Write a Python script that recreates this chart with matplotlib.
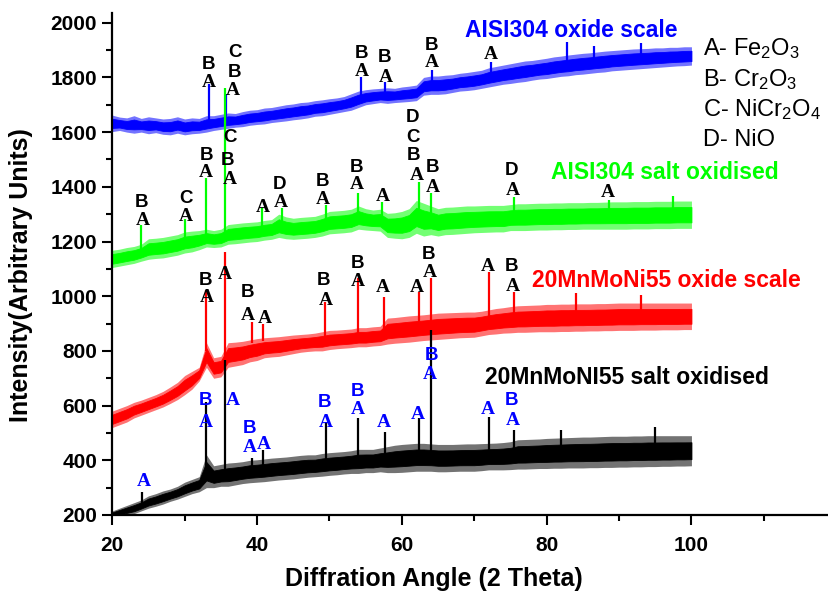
import matplotlib
matplotlib.use("Agg")
import matplotlib.pyplot as plt
from matplotlib.ticker import MultipleLocator

plt.rcParams['font.family'] = ['Liberation Sans', 'DejaVu Sans']
plt.rcParams['mathtext.fontset'] = 'custom'
plt.rcParams['mathtext.rm'] = 'Liberation Sans'
plt.rcParams['mathtext.default'] = 'regular'

# ---------------- data ----------------
two_theta = list(range(20, 101))

blue_lo = [1602,1606,1600,1596,1600,1594,1598,1592,1590,1596,
           1590,1594,1596,1600,1606,1610,1614,1618,1620,1625,
           1628,1630,1635,1638,1641,1645,1648,1652,1658,1660,
           1665,1670,1675,1680,1690,1700,1704,1708,1705,1708,
           1710,1712,1715,1735,1738,1738,1740,1745,1750,1752,
           1755,1760,1765,1770,1775,1778,1782,1785,1790,1794,
           1796,1800,1804,1806,1810,1812,1815,1818,1820,1824,
           1826,1828,1830,1832,1834,1836,1838,1840,1842,1843,1845]
blue_hi = [1662,1655,1652,1660,1650,1656,1652,1648,1650,1656,
           1648,1652,1650,1660,1660,1665,1670,1668,1675,1680,
           1682,1688,1690,1695,1700,1703,1708,1710,1715,1718,
           1722,1725,1730,1740,1750,1755,1758,1760,1762,1760,
           1765,1768,1772,1800,1805,1805,1808,1810,1815,1818,
           1822,1826,1835,1840,1845,1850,1855,1860,1862,1866,
           1870,1875,1878,1882,1885,1888,1890,1893,1896,1898,
           1900,1902,1904,1905,1906,1908,1908,1910,1910,1912,1912]
blue_pk_x = [33.3, 35.7, 54.4, 57.7, 64.2, 72.3, 82.8, 86.5, 93.0]
blue_pk_base = [1640, 1650, 1725, 1735, 1780, 1815, 1850, 1860, 1870]
blue_pk_top = [1777, 1740, 1800, 1785, 1828, 1855, 1930, 1915, 1925]

green_lo = [1105,1110,1115,1120,1128,1135,1138,1140,1145,1150,
            1158,1162,1170,1180,1178,1180,1190,1192,1195,1198,
            1200,1205,1208,1215,1210,1208,1210,1212,1215,1220,
            1228,1230,1232,1235,1245,1242,1240,1238,1215,1212,
            1210,1215,1230,1220,1225,1220,1225,1226,1228,1230,
            1232,1233,1234,1235,1235,1240,1240,1240,1241,1242,
            1242,1243,1243,1244,1244,1245,1245,1245,1245,1245,
            1245,1245,1246,1246,1246,1247,1247,1247,1248,1248,1248]
green_hi = [1168,1172,1178,1182,1190,1210,1212,1215,1220,1225,
            1235,1238,1240,1245,1240,1245,1262,1265,1268,1270,
            1272,1277,1280,1300,1290,1285,1288,1290,1292,1300,
            1310,1312,1314,1318,1330,1320,1315,1318,1303,1305,
            1310,1320,1350,1340,1330,1320,1325,1326,1328,1330,
            1330,1331,1332,1332,1332,1335,1338,1338,1339,1340,
            1340,1341,1341,1342,1342,1342,1343,1343,1344,1345,
            1345,1345,1346,1346,1346,1347,1347,1347,1348,1348,1348]
green_pk_x = [24.0, 30.1, 33.0, 35.6, 40.7, 43.4, 49.5, 54.0, 57.3, 62.4, 64.0, 75.5, 88.6, 97.5]
green_pk_base = [1160, 1200, 1210, 1220, 1235, 1255, 1265, 1280, 1270, 1290, 1280, 1290, 1295, 1300]
green_pk_top = [1259, 1284, 1434, 1760, 1321, 1321, 1332, 1379, 1343, 1416, 1379, 1361, 1350, 1365]

red_lo = [520,530,540,555,565,575,585,595,608,622,
          640,660,690,740,700,705,740,745,750,760,
          765,775,778,780,785,790,795,798,800,800,
          805,808,810,812,815,815,818,820,825,828,
          830,832,835,838,840,842,844,846,848,849,
          850,855,860,862,865,866,868,868,869,870,
          870,870,871,871,872,872,873,873,874,874,
          875,875,875,876,876,876,877,877,877,878,878]
red_hi = [580,590,600,612,620,630,640,652,668,685,
          710,725,740,830,775,780,830,832,835,840,
          845,848,850,852,855,858,860,862,865,870,
          875,876,878,880,885,885,888,890,920,922,
          925,928,930,932,935,938,939,940,941,942,
          942,945,950,955,958,962,965,966,967,968,
          970,970,971,971,972,972,972,973,973,974,
          975,975,975,975,975,975,975,975,975,975,975]
red_pk_x = [33.0, 35.5, 39.3, 40.8, 49.4, 54.0, 57.5, 62.3, 64.0, 72.0, 75.5, 84.0, 93.0]
red_pk_base = [800, 760, 830, 835, 850, 860, 870, 890, 900, 915, 930, 930, 935]
red_pk_top = [1021, 1160, 905, 900, 978, 1065, 996, 1014, 1065, 1087, 1014, 1010, 1005]

black_lo = [190,195,200,205,215,225,232,240,250,258,
            268,278,285,300,300,305,305,310,315,318,
            320,322,325,328,330,332,335,338,340,342,
            345,347,350,352,352,355,355,358,355,355,
            356,358,360,360,360,358,358,359,360,360,
            360,362,365,365,365,366,368,368,369,370,
            370,371,371,372,372,372,373,373,374,374,
            375,375,376,376,377,377,378,378,379,379,380]
black_hi = [215,225,235,245,255,270,278,288,295,305,
            320,330,340,420,380,385,390,392,395,400,
            402,405,408,410,412,415,418,420,420,425,
            428,430,432,435,440,440,440,445,450,455,
            458,460,462,462,460,458,458,458,459,460,
            460,461,462,463,465,468,475,476,477,478,
            480,481,482,483,484,485,485,486,487,488,
            488,488,489,489,490,490,490,490,490,490,490]
black_pk_x = [24.1, 33.0, 35.5, 39.3, 40.8, 49.5, 54.0, 57.6, 62.4, 64.0, 72.0, 75.5, 82.0, 95.0]
black_pk_base = [240, 360, 340, 360, 365, 390, 400, 405, 410, 420, 415, 425, 440, 445]
black_pk_top = [284, 613, 766, 408, 437, 540, 554, 503, 554, 878, 558, 510, 512, 521]

# peak annotations (x, y, letter)
blue_labels = [(33.35, 1848, 'B'), (33.35, 1780, 'A'), (36.94, 1891, 'C'), (36.94, 1818, 'B'),
               (36.67, 1752, 'A'), (54.48, 1889, 'B'), (54.48, 1820, 'A'), (57.65, 1871, 'B'),
               (57.79, 1801, 'A'), (64.15, 1918, 'B'), (64.15, 1853, 'A'), (72.28, 1882, 'A')]
green_labels = [(24.10, 1344, 'B'), (24.24, 1275, 'A'), (30.18, 1359, 'C'), (30.18, 1293, 'A'),
                (33.08, 1516, 'B'), (32.94, 1454, 'A'), (36.25, 1582, 'C'), (35.98, 1498, 'B'),
                (36.25, 1425, 'A'), (40.81, 1323, 'A'), (43.16, 1407, 'D'), (43.29, 1341, 'A'),
                (49.09, 1418, 'B'), (49.09, 1355, 'A'), (53.79, 1472, 'B'), (53.79, 1407, 'A'),
                (57.38, 1363, 'A'), (61.52, 1652, 'D'), (61.52, 1582, 'C'), (61.66, 1516, 'B'),
                (62.08, 1443, 'A'), (64.28, 1472, 'B'), (64.28, 1399, 'A'), (75.18, 1460, 'D'),
                (75.32, 1388, 'A'), (88.44, 1381, 'A')]
red_labels = [(32.94, 1059, 'B'), (33.08, 997, 'A'), (35.56, 1078, 'A'), (38.74, 1012, 'B'),
              (38.74, 931, 'A'), (41.09, 920, 'A'), (49.23, 1059, 'B'), (49.51, 986, 'A'),
              (53.93, 1121, 'B'), (53.93, 1052, 'A'), (57.38, 1030, 'A'), (62.08, 1030, 'A'),
              (63.73, 1151, 'B'), (63.87, 1085, 'A'), (71.87, 1107, 'A'), (75.18, 1107, 'B'),
              (75.32, 1034, 'A')]
black_labels = [(24.38, 321, 'A'), (32.94, 620, 'B'), (32.94, 540, 'A'), (36.67, 620, 'A'),
                (39.01, 518, 'B'), (39.01, 445, 'A'), (40.95, 456, 'A'), (49.37, 613, 'B'),
                (49.51, 540, 'A'), (53.93, 650, 'B'), (53.93, 584, 'A'), (57.51, 540, 'A'),
                (62.21, 566, 'A'), (64.15, 785, 'B'), (63.87, 712, 'A'), (71.87, 584, 'A'),
                (75.18, 620, 'B'), (75.32, 547, 'A')]

series_names = ['AISI304 oxide scale', 'AISI304 salt oxidised',
                '20MnMoNi55 oxide scale', '20MnMoNI55 salt oxidised']
series_name_pos = [(83.33, 1970), (96.31, 1454), (96.58, 1059), (91.06, 701)]
legend_lines = ['A- Fe$_2$O$_3$', 'B- Cr$_2$O$_3$', 'C- NiCr$_2$O$_4$', 'D- NiO']
legend_y = [1882, 1769, 1659, 1549]
legend_x = 101.55

# ---------------- figure ----------------
W, H = 829, 591
fig = plt.figure(figsize=(W / 100, H / 100), dpi=100)
ax = fig.add_axes([112.3 / W, (H - 515) / H, (W - 112.3) / W, 502 / H])

colors = ['#0000FF', '#00FF00', '#FF0000', '#000000']
los = [blue_lo, green_lo, red_lo, black_lo]
his = [blue_hi, green_hi, red_hi, black_hi]
pks = [(blue_pk_x, blue_pk_base, blue_pk_top), (green_pk_x, green_pk_base, green_pk_top),
       (red_pk_x, red_pk_base, red_pk_top), (black_pk_x, black_pk_base, black_pk_top)]

for c, lo, hi, (px, pb, pt) in zip(colors, los, his, pks):
    # noisy trace: sparse outer fringe + dense core
    ax.fill_between(two_theta, lo, hi, color=c, lw=0, alpha=0.55)
    core_lo = [l + 0.22 * (h - l) for l, h in zip(lo, hi)]
    core_hi = [h - 0.22 * (h - l) for l, h in zip(lo, hi)]
    ax.fill_between(two_theta, core_lo, core_hi, color=c, lw=0.6, edgecolor=c)
    ax.vlines(px, pb, pt, color=c, lw=1.6)

label_sets = [(blue_labels, 'black'), (green_labels, 'black'), (red_labels, 'black'), (black_labels, '#0000FF')]
for labels, lc in label_sets:
    for x, y, t in labels:
        if t == 'A':
            ax.text(x, y, t, color=lc, fontsize=14, fontweight='bold',
                    family=['Liberation Serif', 'DejaVu Serif'], ha='center', va='center')
        else:
            ax.text(x, y, t, color=lc, fontsize=13.5, fontweight='bold',
                    ha='center', va='center')

for name, (x, y), c in zip(series_names, series_name_pos, colors):
    ax.text(x, y, name, color=c, fontsize=16.5, fontweight='bold', ha='center', va='center')

for t, y in zip(legend_lines, legend_y):
    ax.text(legend_x, y, t, color='black', fontsize=17, ha='left', va='baseline')

ax.set_xlim(20, 119)
ax.set_ylim(200, 2035.5)
ax.xaxis.set_minor_locator(MultipleLocator(10))
ax.yaxis.set_minor_locator(MultipleLocator(100))
ax.spines['top'].set_visible(False)
ax.spines['right'].set_visible(False)
for s in ['left', 'bottom']:
    ax.spines[s].set_linewidth(1.6)
ax.tick_params(which='major', length=7, width=1.5, direction='out')
ax.tick_params(which='minor', length=4.5, width=1.5, direction='out')
ax.tick_params(axis='x', which='major', pad=8)
ax.tick_params(axis='y', which='major', pad=4)
ax.set_xticks([20, 40, 60, 80, 100])
ax.set_yticks(list(range(200, 2001, 200)))
ax.set_xticklabels(['20', '40', '60', '80', '100'], fontsize=15, fontweight='bold')
ax.set_yticklabels([str(v) for v in range(200, 2001, 200)], fontsize=15, fontweight='bold')

ax.set_xlabel('Diffration Angle (2 Theta)', fontsize=18, fontweight='bold', va='center')
ax.xaxis.set_label_coords((434 - 112.3) / (W - 112.3), (515 - 579) / 502)
ax.set_ylabel('Intensity(Arbitrary Units)', fontsize=18, fontweight='bold', va='center')
ax.yaxis.set_label_coords((21 - 112.3) / (W - 112.3), (515 - 275) / 502)

fig.savefig('out.png', dpi=100)
